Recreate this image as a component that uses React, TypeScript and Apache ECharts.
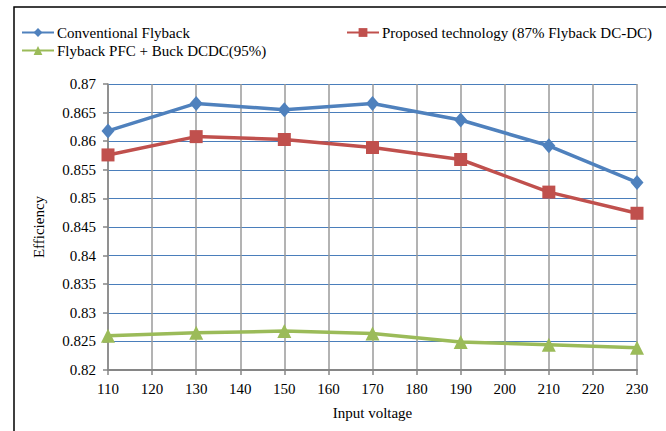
import React, { useEffect, useRef } from "react";
import * as echarts from "echarts";

const voltages = [110, 130, 150, 170, 190, 210, 230];
const conventional = [0.8618, 0.8666, 0.8655, 0.8666, 0.8637, 0.8592, 0.8528];
const proposed = [0.8576, 0.8608, 0.8603, 0.8589, 0.8568, 0.8511, 0.8474];
const flybackPfc = [0.826, 0.8265, 0.8268, 0.8264, 0.8249, 0.8244, 0.8239];

const seriesNames = [
  "Conventional Flyback",
  "Proposed technology (87% Flyback DC-DC)",
  "Flyback PFC + Buck DCDC(95%)",
];
const colors = ["#4F81BD", "#C0504D", "#9BBB59"];
const symbols = ["diamond", "rect", "triangle"];
const symbolSizes = [[13, 15], 13, 14];
const FONT = "'Liberation Serif', 'Times New Roman', serif";

export default function App() {
  const ref = useRef<HTMLDivElement>(null);
  useEffect(() => {
    if (!ref.current) return;
    const chart = echarts.init(ref.current, undefined, { renderer: "svg" });
    const datasets = [conventional, proposed, flybackPfc];
    const legendPos = [
      { left: 21, top: 24 },
      { left: 346, top: 24 },
      { left: 21, top: 42 },
    ];
    chart.setOption({
      animation: false,
      backgroundColor: "#ffffff",
      textStyle: { fontFamily: FONT },
      graphic: [
        {
          type: "rect",
          shape: { x: 14, y: 7, width: 800, height: 600 },
          style: { fill: "none", stroke: "#000", lineWidth: 1.5 },
          silent: true,
        },
      ],
      legend: seriesNames.map((n, i) => ({
        data: [n],
        left: legendPos[i].left,
        top: legendPos[i].top + 1,
        itemWidth: 32,
        itemHeight: 11,
        itemGap: 4,
        padding: 0,
        textStyle: { fontFamily: FONT, fontSize: 15, color: "#000", padding: [0, 0, 0, -2] },
      })),
      grid: { left: 108, right: 29, top: 84, bottom: 61 },
      xAxis: {
        type: "value",
        min: 110,
        max: 230,
        interval: 10,
        name: "Input voltage",
        nameLocation: "middle",
        nameGap: 35,
        nameTextStyle: { fontFamily: FONT, fontSize: 15, color: "#000" },
        axisLine: { show: true, lineStyle: { color: "#868686", width: 2 } },
        axisTick: { show: true, length: 5, lineStyle: { color: "#868686", width: 1.5 } },
        axisLabel: { fontFamily: FONT, fontSize: 15, color: "#000", margin: 11 },
        splitLine: { show: true, lineStyle: { color: "#9a9a9a", width: 1.5 } },
      },
      yAxis: {
        type: "value",
        min: 0.82,
        max: 0.87,
        interval: 0.005,
        name: "Efficiency",
        nameLocation: "middle",
        nameGap: 62,
        nameRotate: 90,
        nameTextStyle: { fontFamily: FONT, fontSize: 15, color: "#000" },
        axisLine: { show: true, lineStyle: { color: "#868686", width: 1.5 } },
        axisTick: { show: true, length: 5, lineStyle: { color: "#868686", width: 1.5 } },
        axisLabel: {
          fontFamily: FONT,
          fontSize: 15,
          color: "#000",
          margin: 12,
          formatter: (v: number) => String(+v.toFixed(3)),
        },
        splitLine: { show: true, lineStyle: { color: "#4A7EBB", width: 1 } },
      },
      series: seriesNames.map((n, i) => ({
        name: n,
        type: "line",
        data: voltages.map((v, k) => [v, datasets[i][k]]),
        symbol: symbols[i],
        symbolSize: symbolSizes[i],
        lineStyle: { color: colors[i], width: 3.5 },
        itemStyle: { color: colors[i] },
        z: 3 + (2 - i),
      })),
    });
    return () => chart.dispose();
  }, []);
  return (
    <div
      ref={ref}
      style={{ position: "fixed", left: 0, top: 0, width: 666, height: 431, background: "#fff" }}
    />
  );
}
